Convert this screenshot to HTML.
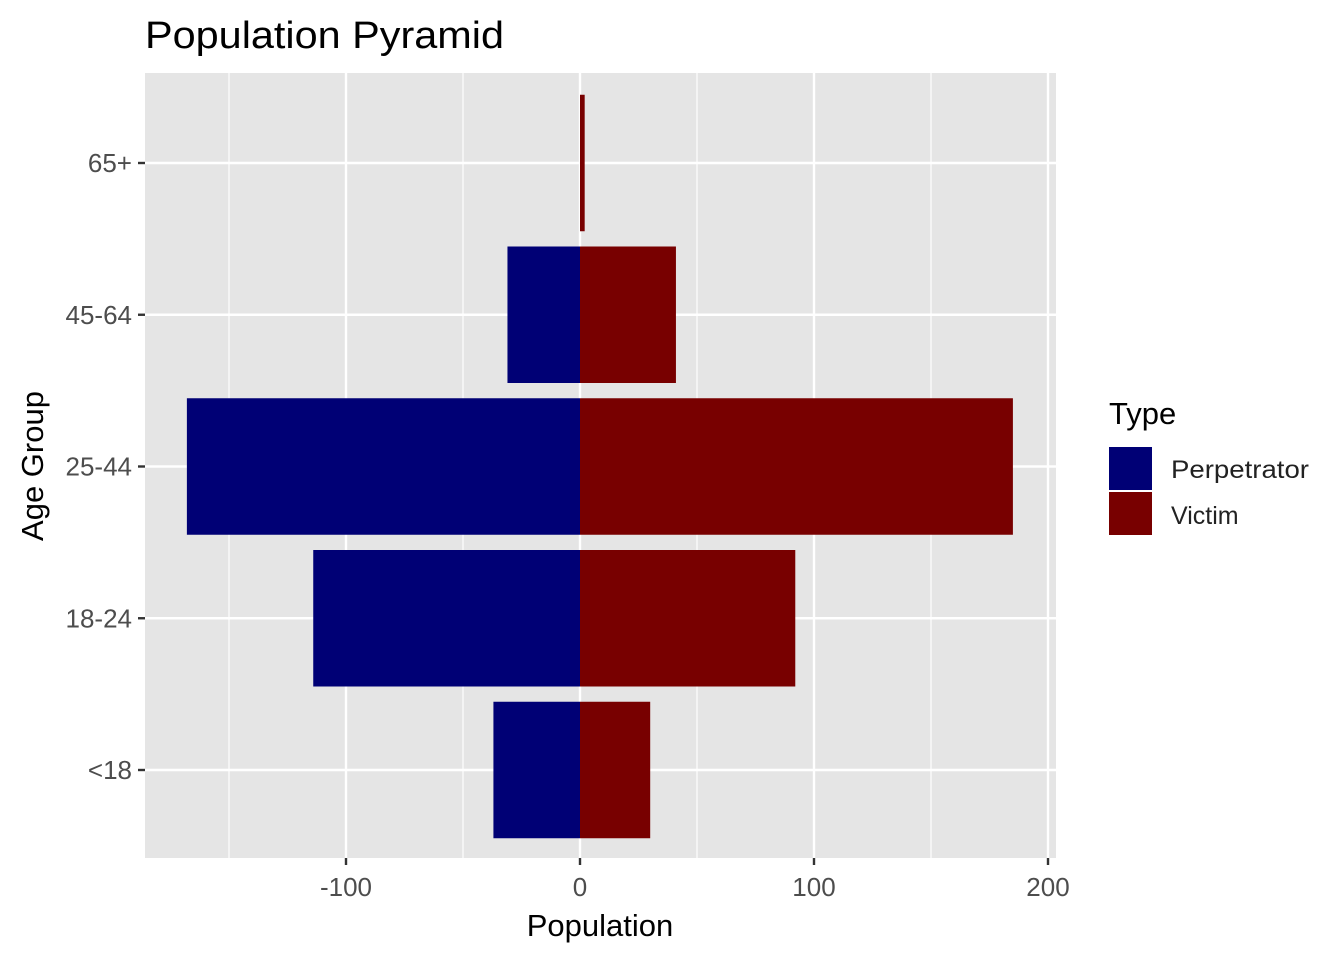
<!DOCTYPE html>
<html><head><meta charset="utf-8"><style>
body{margin:0;background:#fff;font-family:"Liberation Sans",Arial,sans-serif}
</style></head><body>
<svg width="1344" height="960" xmlns="http://www.w3.org/2000/svg">
<text x="145" y="48" font-size="38" textLength="359" lengthAdjust="spacingAndGlyphs" fill="#000">Population Pyramid</text>
<rect x="145" y="73" width="911" height="785" fill="#e5e5e5"/>
<g id="grid"></g><g id="bars"></g><g id="axes"></g>
<text x="600" y="936" font-size="31" text-anchor="middle">Population</text>
<text transform="translate(43,466) rotate(-90)" font-size="31" text-anchor="middle">Age Group</text>
<g>
<text x="1109" y="424" font-size="31">Type</text>
<rect x="1109" y="447" width="43" height="43" fill="#000075"/>
<text x="1171" y="478" font-size="25" textLength="138" lengthAdjust="spacingAndGlyphs" fill="#222">Perpetrator</text>
<rect x="1109" y="492" width="43" height="43" fill="#780000"/>
<text x="1171" y="524" font-size="25" fill="#222">Victim</text>
</g>
</svg>
<script>
const categories=["<18","18-24","25-44","45-64","65+"];
const perpetrator=[-37,-114,-168,-31,0];
const victim=[30,92,185,41,2];
const xTicks=[-100,0,100,200];
const xMinor=[-150,-50,50,150];
const NS="http://www.w3.org/2000/svg";
const x=v=>580+v*2.34;
const y=i=>770-i*151.75;
const bh=136.5;
function mk(tag,attrs,parent,text){const e=document.createElementNS(NS,tag);for(const k in attrs)e.setAttribute(k,attrs[k]);if(text!==undefined)e.textContent=text;document.getElementById(parent).appendChild(e);return e;}
xMinor.forEach(v=>{const l=mk('line',{x1:x(v),x2:x(v),y1:73,y2:858,stroke:'#fff','stroke-width':1.2},'grid');

});
xTicks.forEach(v=>{const l=mk('line',{x1:x(v),x2:x(v),y1:73,y2:858,stroke:'#fff','stroke-width':2.4},'grid');


const t=mk('line',{x1:x(v),x2:x(v),y1:858,y2:865,stroke:'#333','stroke-width':2.4},'axes');


const tx=mk('text',{x:x(v),y:896,'font-size':26,'text-anchor':'middle',fill:'#4d4d4d'},'axes',String(v));

});
categories.forEach((c,i)=>{const l=mk('line',{x1:145,x2:1056,y1:y(i),y2:y(i),stroke:'#fff','stroke-width':2.4},'grid');


const t=mk('line',{x1:138,x2:145,y1:y(i),y2:y(i),stroke:'#333','stroke-width':2.4},'axes');


const tx=mk('text',{x:132,y:y(i)+9,'font-size':26,'text-anchor':'end',fill:'#4d4d4d'},'axes',c);


const p=perpetrator[i],v=victim[i];
if(p!==0){const r=mk('rect',{x:x(Math.min(p,0)),y:y(i)-bh/2,width:Math.abs(x(p)-x(0)),height:bh,fill:'#000075'},'bars');

}
if(v!==0){const r=mk('rect',{x:x(Math.min(v,0)),y:y(i)-bh/2,width:Math.abs(x(v)-x(0)),height:bh,fill:'#780000'},'bars');

}
});
</script>
</body></html>
